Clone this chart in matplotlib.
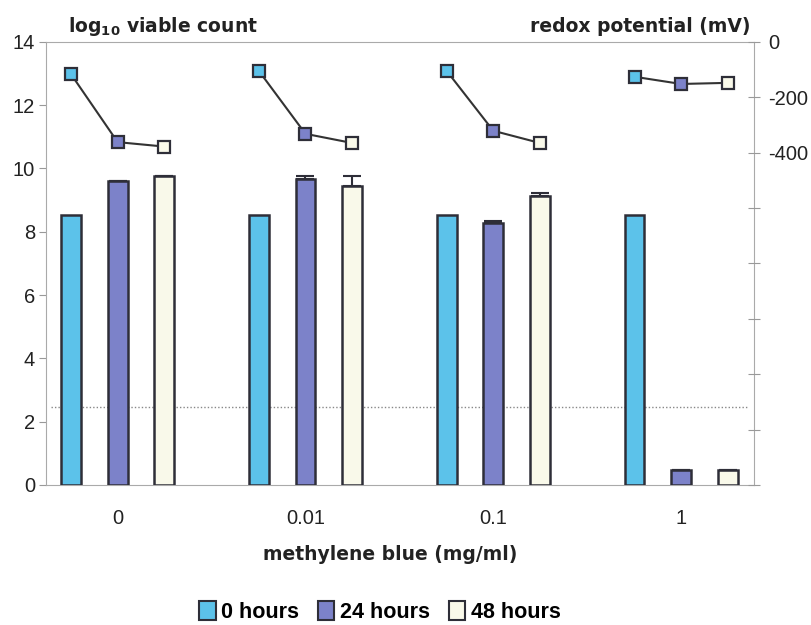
import numpy as np
import matplotlib
matplotlib.use('Agg')
import matplotlib.pyplot as plt
from matplotlib.patches import Patch
from matplotlib.ticker import FuncFormatter

plt.rcParams['font.family'] = ['Liberation Sans', 'DejaVu Sans']
plt.rcParams['mathtext.fontset'] = 'custom'
plt.rcParams['mathtext.rm'] = 'DejaVu Sans:bold'
plt.rcParams['mathtext.bf'] = 'DejaVu Sans:bold'

# data
concentrations = ['0', '0.01', '0.1', '1']
series = ['0 hours', '24 hours', '48 hours']
count_0h = [8.53, 8.52, 8.53, 8.52]
count_24h = [9.61, 9.67, 8.28, 0.47]
count_48h = [9.77, 9.45, 9.13, 0.47]
err_24h = [0.0, 0.1, 0.07, 0.0]
err_48h = [0.0, 0.32, 0.1, 0.0]
redox_0h = [-117, -105, -105, -126]
redox_24h = [-362, -332, -321, -152]
redox_48h = [-378, -365, -365, -148]
detection_limit = 2.45

colors = ['#5cc2ea', '#7c82c9', '#f9f9ea']
edge = '#2e2e38'
txt = '#222222'

fig = plt.figure(figsize=(8.12, 6.25), dpi=100)
ax = fig.add_axes([0.057, 0.224, 0.872, 0.709])

x = np.arange(len(concentrations))
off = 0.248
w = 0.105
counts = [count_0h, count_24h, count_48h]
errs = [None, err_24h, err_48h]
for i in range(3):
    xe = x + (i - 1) * off
    yerr = None
    if errs[i] is not None:
        yerr = [np.zeros(4), errs[i]]
    ax.bar(xe, counts[i], width=w, color=colors[i], edgecolor=edge,
           linewidth=1.8, zorder=3, yerr=yerr,
           error_kw=dict(ecolor=edge, elinewidth=1.5, capsize=6.5, capthick=1.5))

ax.axhline(detection_limit, xmin=0.006, xmax=0.99, color='#888888', lw=1,
           ls=(0, (1, 1.5)), zorder=2)

ax.set_xlim(-0.38, 3.39)
ax.set_ylim(0, 14)
ax.set_yticks(range(0, 15, 2))
ax.set_xticks(x)
ax.set_xticklabels(concentrations)
ax.tick_params(axis='y', direction='out', length=5, color='#999999',
               labelsize=14.5, labelcolor=txt, pad=3)
ax.tick_params(axis='x', length=0, labelsize=14.5, labelcolor=txt, pad=17)
for s in ['left', 'bottom', 'right']:
    ax.spines[s].set_color('#aaaaaa')
ax.spines['top'].set_color('#aaaaaa')
ax.spines['top'].set_linestyle((0, (2, 1)))

ax2 = ax.twinx()
ax2.set_ylim(-1600, 0)
ax2.set_yticks(range(-1600, 1, 200))
ax2.yaxis.set_major_formatter(FuncFormatter(
    lambda v, p: '%d' % v if v >= -400 else ''))
ax2.tick_params(axis='y', direction='inout', length=8, color='#999999',
                labelsize=14.5, labelcolor=txt, pad=6)
for s in ax2.spines.values():
    s.set_visible(False)

redox = [redox_0h, redox_24h, redox_48h]
for j in range(len(concentrations)):
    xs = [x[j] + (i - 1) * off for i in range(3)]
    ys = [redox[i][j] for i in range(3)]
    ax2.plot(xs, ys, color='#333333', lw=1.5, zorder=4)
    for i in range(3):
        ax2.plot(xs[i], ys[i], marker='s', ms=9, mfc=colors[i], mec=edge,
                 mew=1.6, zorder=5)

title_font = dict(family='DejaVu Sans', fontsize=13.5, fontweight='bold',
                  color=txt, va='center')
fig.text(0.084, 0.958, r'log$_{10}$ viable count', **title_font)
fig.text(0.924, 0.958, 'redox potential (mV)', ha='right', **title_font)
fig.text(0.48, 0.112, 'methylene blue (mg/ml)', ha='center', **title_font)

handles = [Patch(facecolor=colors[i], edgecolor=edge, linewidth=1.5)
           for i in range(3)]
fig.legend(handles, series, loc='center', bbox_to_anchor=(0.468, 0.021),
           ncol=3, frameon=False, handlelength=0.75, handleheight=1.0,
           handletextpad=0.25, columnspacing=0.9,
           prop=dict(size=15.5, weight='bold'))

fig.savefig('out.png', dpi=100)
